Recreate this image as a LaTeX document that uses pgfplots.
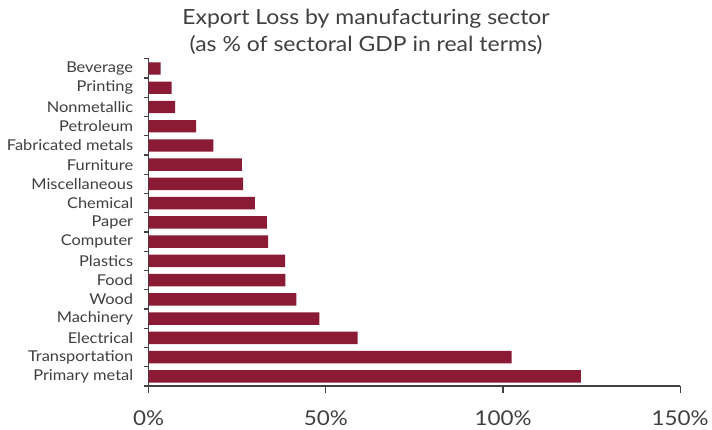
\documentclass[border=0pt]{standalone}
\usepackage{pgfplots}
\pgfplotsset{compat=1.18}
\usepackage{fontspec}
\setmainfont[FakeStretch=1.1]{Lato}
\definecolor{barred}{HTML}{8B1A35}
\definecolor{txt}{HTML}{3F3F3F}
\definecolor{axc}{HTML}{404040}
\begin{document}
\begin{tikzpicture}
\begin{axis}[
  at={(0,0)}, anchor=south west,
  scale only axis, width=533bp, height=328bp,
  xmin=0, xmax=150, ymin=-0.5, ymax=16.5,
  xbar, bar width=12.4bp,
  axis x line*=bottom, axis y line*=left,
  axis line style={-, draw=axc, line width=1.3bp},
  xtick={0,50,100,150}, xticklabels={0\%,50\%,100\%,150\%},
  ytick={0,...,16},
  yticklabels={Primary metal, Transportation, Electrical, Machinery, Wood, Food, Plastics, Computer, Paper, Chemical, Miscellaneous\ , Furniture, Fabricated metals, Petroleum, Nonmetallic, Printing, Beverage},
  minor ytick={-0.5,0.5,...,16.5},
  tick align=outside,
  major tick length=7bp, minor tick length=5bp,
  every tick/.style={draw=axc, line width=1.2bp},
  major y tick style={draw=none},
  xticklabel style={font=\fontsize{20.5}{20}\selectfont, text=txt, yshift=-14bp},
  yticklabel style={font=\fontsize{15}{15}\selectfont, text=txt, xshift=-5bp},
  /pgf/number format/assume math mode=true,
  clip=false,
]
\addplot[fill=barred, draw=none] coordinates {
(122.0,0) (102.4,1) (59.0,2) (48.2,3) (41.7,4) (38.6,5) (38.5,6) (33.7,7) (33.4,8) (30.0,9) (26.7,10) (26.3,11) (18.3,12) (13.4,13) (7.5,14) (6.5,15) (3.4,16)};
\end{axis}
\node[text=txt, font=\fontsize{21}{27}\selectfont, align=center] at (218bp,355bp) {Export Loss by manufacturing sector\\(as \% of sectoral GDP in real terms)};
\path[use as bounding box] (-149bp,-44bp) rectangle (563bp,387bp);
\end{tikzpicture}
\end{document}
